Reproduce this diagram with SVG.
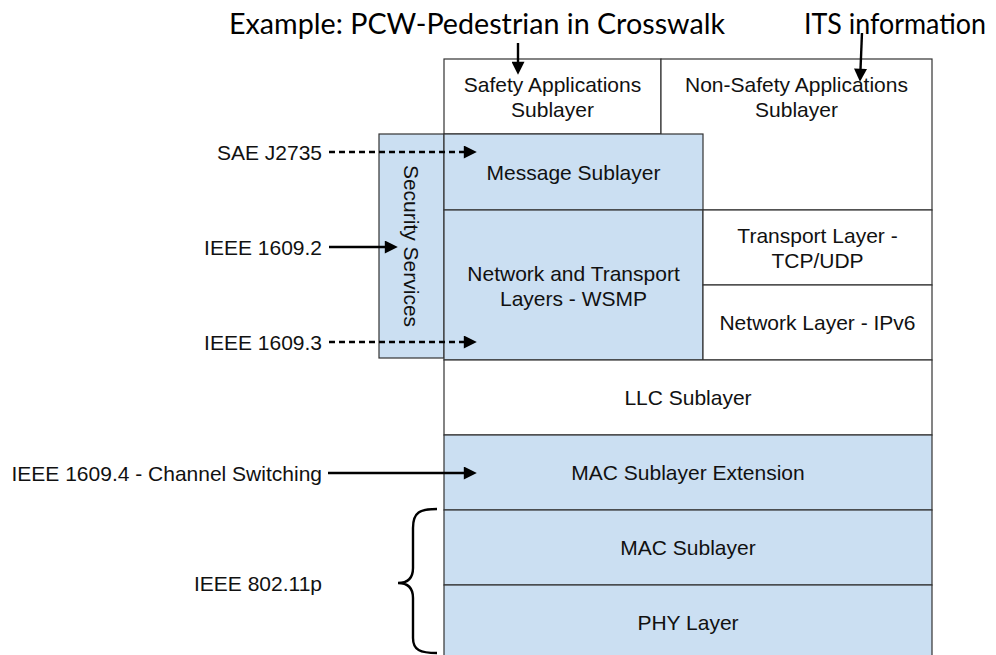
<svg xmlns="http://www.w3.org/2000/svg" width="996" height="655" viewBox="0 0 996 655">
<style>
.box{stroke:#333;stroke-width:1.2}
.w{fill:#ffffff}
.b{fill:#cbdff2}
.t{font-family:"Liberation Sans",Arial,sans-serif;font-size:21px;fill:#111;text-anchor:middle}
.l{font-family:"Liberation Sans",Arial,sans-serif;font-size:21px;fill:#111;text-anchor:end}
.h{font-family:Lato,"Open Sans",sans-serif;font-size:28px;fill:#000}
.c{stroke:#000;stroke-width:2.4;fill:none}
.d{stroke-dasharray:6 4}
</style>
<defs>
<marker id="ah" viewBox="0 0 10 10" refX="4" refY="5" markerWidth="14" markerHeight="13" markerUnits="userSpaceOnUse" orient="auto">
<path d="M0,0 L10,5 L0,10 z" fill="#000" stroke="none"/>
</marker>
</defs>
<rect x="0" y="0" width="996" height="655" fill="#fff"/>

<g id="title-example"><text class="h" x="229" y="34" textLength="496" lengthAdjust="spacingAndGlyphs">Example: PCW-Pedestrian in Crosswalk</text></g>
<g id="title-its"><text class="h" x="804" y="34" textLength="182" lengthAdjust="spacingAndGlyphs">ITS information</text></g>

<g id="safety-apps"><rect class="box w" x="444" y="59" width="217" height="75"/>
<text class="t" x="552.5" y="92">Safety Applications</text><text class="t" x="552.5" y="117">Sublayer</text></g>
<g id="nonsafety-apps"><rect class="box w" x="661" y="59" width="271" height="151"/>
<text class="t" x="796.5" y="92">Non-Safety Applications</text><text class="t" x="796.5" y="117">Sublayer</text></g>

<g id="security-services"><rect class="box b" x="379" y="134" width="65" height="224"/>
<text class="t" x="411.5" y="246" dominant-baseline="central" transform="rotate(90 411.5 246)">Security Services</text></g>

<g id="message-sublayer"><rect class="box b" x="444" y="134" width="259" height="76"/>
<text class="t" x="573.5" y="180">Message Sublayer</text></g>
<g id="wsmp"><rect class="box b" x="444" y="210" width="259" height="150"/>
<text class="t" x="573.5" y="281">Network and Transport</text><text class="t" x="573.5" y="306">Layers - WSMP</text></g>
<g id="transport-layer"><rect class="box w" x="703" y="210" width="229" height="75"/>
<text class="t" x="817.5" y="243">Transport Layer -</text><text class="t" x="817.5" y="268">TCP/UDP</text></g>
<g id="network-layer"><rect class="box w" x="703" y="285" width="229" height="75"/>
<text class="t" x="817.5" y="330">Network Layer - IPv6</text></g>
<g id="llc"><rect class="box w" x="444" y="360" width="488" height="75"/>
<text class="t" x="688" y="405">LLC Sublayer</text></g>
<g id="mac-ext"><rect class="box b" x="444" y="435" width="488" height="75"/>
<text class="t" x="688" y="480">MAC Sublayer Extension</text></g>
<g id="mac"><rect class="box b" x="444" y="510" width="488" height="75"/>
<text class="t" x="688" y="555">MAC Sublayer</text></g>
<g id="phy"><rect class="box b" x="444" y="585" width="488" height="76"/>
<text class="t" x="688" y="630">PHY Layer</text></g>

<g id="label-sae"><text class="l" x="322" y="160">SAE J2735</text></g>
<g id="label-1609-2"><text class="l" x="322" y="255">IEEE 1609.2</text></g>
<g id="label-1609-3"><text class="l" x="322" y="350">IEEE 1609.3</text></g>
<g id="label-1609-4"><text class="l" x="322" y="481">IEEE 1609.4 - Channel Switching</text></g>
<g id="label-80211p"><text class="l" x="322" y="591">IEEE 802.11p</text>
<path class="c" stroke-width="2.6" d="M437,509 C420,509 413,512 413,528 L413,568 C413,578 408,583 398,583 C408,583 413,588 413,598 L413,638 C413,650 420,653 437,653"/></g>

<g id="connectors">
<line class="c d" x1="329" y1="152" x2="469" y2="152" marker-end="url(#ah)"/>
<line class="c" x1="329" y1="247" x2="390" y2="247" marker-end="url(#ah)"/>
<line class="c d" x1="329" y1="342" x2="469" y2="342" marker-end="url(#ah)"/>
<line class="c" x1="328" y1="473" x2="469" y2="473" marker-end="url(#ah)"/>
<line class="c" x1="518" y1="43" x2="518" y2="67" marker-end="url(#ah)"/>
<line class="c" x1="862" y1="33" x2="860.3" y2="74" marker-end="url(#ah)"/>
</g>
</svg>
